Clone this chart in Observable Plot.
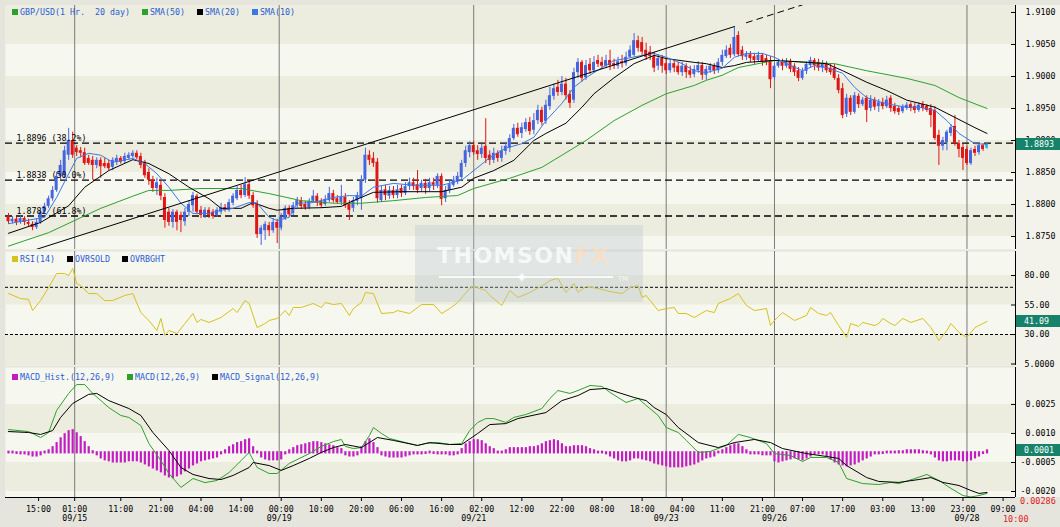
<!DOCTYPE html>
<html><head><meta charset="utf-8">
<script src="https://cdn.jsdelivr.net/npm/d3@7"></script>
<script src="https://cdn.jsdelivr.net/npm/@observablehq/plot@0.6"></script>
<style>
html,body{margin:0;padding:0;background:#e5e5de;}
#wrap{position:relative;width:1060px;height:527px;overflow:hidden;background:#e5e5de;}
#axisbg{position:absolute;left:1015px;top:5px;width:45px;height:492px;background:#f3f3eb;}
.pnl{position:absolute;left:0;}
.pnl svg{display:block;}
.leg{position:absolute;font-family:"DejaVu Sans Mono",monospace;font-size:8.3px;color:#2a5bd7;white-space:pre;line-height:10px;}
.sq{position:absolute;width:6px;height:6px;}
.box{position:absolute;left:1016px;width:44px;height:12px;background:#16826a;color:#fff;font-family:"DejaVu Sans Mono",monospace;font-size:8.3px;line-height:12px;padding-left:8px;box-sizing:border-box;}
.red{position:absolute;color:#e02020;font-family:"DejaVu Sans Mono",monospace;font-size:8.5px;line-height:10px;}
#wm{position:absolute;left:415px;top:225px;width:228px;height:77px;background:rgba(185,196,208,0.34);}
</style></head>
<body><div id="wrap"><div id="axisbg"></div></div>
<script>
// ---------------- DATA ----------------
const open = [1.8781,1.8773,1.8777,1.8772,1.8778,1.8772,1.8769,1.8764,1.8772,1.8788,
1.8797,1.8809,1.8822,1.8844,1.8845,1.8877,1.8900,1.8888,1.8884,1.8881,
1.8872,1.8869,1.8861,1.8869,1.8864,1.8864,1.8858,1.8866,1.8872,1.8867,
1.8872,1.8875,1.8880,1.8875,1.8866,1.8850,1.8838,1.8825,1.8830,1.8811,
1.8788,1.8772,1.8788,1.8783,1.8773,1.8788,1.8798,1.8813,1.8791,1.8783,
1.8791,1.8788,1.8783,1.8788,1.8795,1.8791,1.8802,1.8809,1.8822,1.8814,
1.8831,1.8814,1.8802,1.8753,1.8759,1.8767,1.8759,1.8772,1.8763,1.8778,
1.8794,1.8786,1.8798,1.8806,1.8800,1.8795,1.8805,1.8813,1.8805,1.8800,
1.8806,1.8817,1.8809,1.8803,1.8811,1.8800,1.8794,1.8805,1.8809,1.8838,
1.8877,1.8872,1.8866,1.8806,1.8823,1.8813,1.8822,1.8814,1.8825,1.8817,
1.8828,1.8834,1.8831,1.8825,1.8833,1.8825,1.8834,1.8830,1.8844,1.8809,
1.8822,1.8830,1.8836,1.8842,1.8864,1.8881,1.8892,1.8884,1.8878,1.8891,
1.8877,1.8869,1.8880,1.8872,1.8883,1.8888,1.8903,1.8919,1.8911,1.8917,
1.8928,1.8916,1.8931,1.8947,1.8930,1.8953,1.8969,1.8983,1.8975,1.8988,
1.8972,1.8963,1.9006,1.9022,1.8998,1.9019,1.9009,1.9025,1.9022,1.9016,
1.9025,1.9020,1.9016,1.9023,1.9020,1.9030,1.9033,1.9056,1.9053,1.9041,
1.9038,1.9031,1.9016,1.9028,1.9020,1.9009,1.9020,1.9016,1.9006,1.9016,
1.9009,1.9003,1.9009,1.9017,1.9002,1.9009,1.9016,1.9009,1.9022,1.9031,
1.9044,1.9034,1.9064,1.9041,1.9030,1.9034,1.9031,1.9025,1.9033,1.9028,
1.9025,1.8998,1.9016,1.9022,1.9016,1.9022,1.9016,1.9009,1.8997,1.9008,
1.9017,1.9025,1.9022,1.9013,1.9019,1.9013,1.9013,1.8997,1.8981,1.8941,
1.8966,1.8944,1.8969,1.8956,1.8966,1.8950,1.8963,1.8953,1.8959,1.8953,
1.8966,1.8953,1.8950,1.8945,1.8950,1.8956,1.8953,1.8947,1.8956,1.8953,
1.8950,1.8947,1.8908,1.8891,1.8897,1.8911,1.8922,1.8895,1.8889,1.8886,
1.8864,1.8886,1.8881,1.8892,1.8888];
const high = [1.8786,1.8781,1.8780,1.8783,1.8781,1.8777,1.8773,1.8777,1.8791,1.8802,
1.8813,1.8828,1.8850,1.8869,1.8891,1.8919,1.8913,1.8892,1.8889,1.8888,
1.8877,1.8875,1.8873,1.8873,1.8872,1.8869,1.8873,1.8877,1.8875,1.8880,
1.8881,1.8884,1.8884,1.8880,1.8869,1.8856,1.8844,1.8841,1.8838,1.8817,
1.8794,1.8792,1.8791,1.8788,1.8794,1.8806,1.8819,1.8816,1.8797,1.8795,
1.8795,1.8792,1.8795,1.8802,1.8800,1.8808,1.8817,1.8828,1.8830,1.8842,
1.8838,1.8819,1.8806,1.8767,1.8773,1.8772,1.8778,1.8777,1.8786,1.8798,
1.8798,1.8803,1.8811,1.8811,1.8805,1.8809,1.8822,1.8817,1.8809,1.8814,
1.8827,1.8822,1.8814,1.8830,1.8817,1.8806,1.8811,1.8819,1.8845,1.8888,
1.8884,1.8881,1.8872,1.8828,1.8830,1.8828,1.8828,1.8830,1.8830,1.8834,
1.8841,1.8841,1.8853,1.8838,1.8839,1.8841,1.8841,1.8848,1.8848,1.8828,
1.8838,1.8844,1.8850,1.8869,1.8891,1.8898,1.8898,1.8892,1.8894,1.8934,
1.8884,1.8888,1.8884,1.8891,1.8897,1.8909,1.8925,1.8927,1.8927,1.8934,
1.8936,1.8942,1.8955,1.8952,1.8963,1.8983,1.8988,1.8994,1.9000,1.8997,
1.8978,1.9013,1.9028,1.9025,1.9025,1.9028,1.9031,1.9033,1.9030,1.9033,
1.9041,1.9027,1.9030,1.9033,1.9038,1.9048,1.9067,1.9063,1.9061,1.9052,
1.9047,1.9038,1.9034,1.9033,1.9027,1.9025,1.9025,1.9022,1.9022,1.9020,
1.9016,1.9017,1.9023,1.9022,1.9016,1.9020,1.9020,1.9028,1.9041,1.9048,
1.9050,1.9078,1.9070,1.9047,1.9039,1.9039,1.9036,1.9038,1.9036,1.9033,
1.9031,1.9020,1.9027,1.9027,1.9028,1.9027,1.9020,1.9014,1.9013,1.9023,
1.9030,1.9028,1.9027,1.9025,1.9023,1.9019,1.9019,1.9003,1.8989,1.8972,
1.8970,1.8975,1.8973,1.8967,1.8970,1.8970,1.8967,1.8964,1.8966,1.8969,
1.8970,1.8958,1.8953,1.8956,1.8959,1.8959,1.8958,1.8959,1.8961,1.8956,
1.8956,1.8953,1.8916,1.8905,1.8916,1.8925,1.8939,1.8900,1.8894,1.8891,
1.8888,1.8891,1.8895,1.8895,1.8895];
const low = [1.8769,1.8770,1.8767,1.8769,1.8767,1.8764,1.8759,1.8761,1.8769,1.8784,
1.8794,1.8805,1.8819,1.8839,1.8842,1.8869,1.8872,1.8875,1.8873,1.8861,
1.8861,1.8838,1.8856,1.8841,1.8856,1.8853,1.8853,1.8861,1.8863,1.8864,
1.8869,1.8872,1.8870,1.8856,1.8841,1.8830,1.8819,1.8814,1.8806,1.8763,
1.8766,1.8763,1.8759,1.8756,1.8766,1.8781,1.8788,1.8784,1.8778,1.8778,
1.8778,1.8777,1.8780,1.8784,1.8788,1.8788,1.8798,1.8806,1.8809,1.8811,
1.8808,1.8794,1.8747,1.8736,1.8744,1.8750,1.8755,1.8739,1.8759,1.8775,
1.8780,1.8783,1.8794,1.8792,1.8791,1.8792,1.8802,1.8797,1.8794,1.8797,
1.8803,1.8802,1.8800,1.8798,1.8794,1.8775,1.8788,1.8798,1.8791,1.8833,
1.8861,1.8858,1.8802,1.8803,1.8806,1.8808,1.8809,1.8809,1.8811,1.8814,
1.8822,1.8822,1.8817,1.8819,1.8816,1.8820,1.8822,1.8825,1.8798,1.8803,
1.8817,1.8827,1.8831,1.8838,1.8858,1.8873,1.8877,1.8869,1.8872,1.8864,
1.8861,1.8864,1.8866,1.8866,1.8877,1.8881,1.8900,1.8905,1.8903,1.8913,
1.8908,1.8909,1.8925,1.8923,1.8925,1.8947,1.8963,1.8969,1.8970,1.8963,
1.8950,1.8958,1.8997,1.8991,1.8994,1.9003,1.9005,1.9014,1.9011,1.9013,
1.9009,1.9011,1.9011,1.9013,1.9016,1.9028,1.9030,1.9038,1.9033,1.9025,
1.9025,1.9006,1.9009,1.9005,1.9003,1.9005,1.9006,1.9002,1.9000,1.8997,
1.8997,1.8998,1.9005,1.8994,1.8994,1.9005,1.9003,1.9005,1.9016,1.9028,
1.9028,1.9031,1.9031,1.9025,1.9025,1.9022,1.9019,1.9022,1.9016,1.9017,
1.8981,1.8994,1.9013,1.9009,1.9013,1.9006,1.9000,1.8992,1.8994,1.9003,
1.9013,1.9009,1.9008,1.9006,1.9005,1.9002,1.8994,1.8973,1.8934,1.8936,
1.8939,1.8941,1.8950,1.8953,1.8928,1.8945,1.8947,1.8944,1.8948,1.8950,
1.8944,1.8941,1.8939,1.8942,1.8947,1.8945,1.8942,1.8944,1.8945,1.8944,
1.8920,1.8900,1.8861,1.8884,1.8884,1.8906,1.8891,1.8873,1.8853,1.8861,
1.8861,1.8875,1.8877,1.8883,1.8886];
const close = [1.8773,1.8777,1.8772,1.8778,1.8772,1.8769,1.8764,1.8772,1.8788,1.8797,
1.8809,1.8822,1.8844,1.8861,1.8884,1.8900,1.8877,1.8881,1.8880,1.8864,
1.8864,1.8861,1.8869,1.8859,1.8859,1.8856,1.8869,1.8872,1.8866,1.8875,
1.8877,1.8880,1.8873,1.8861,1.8845,1.8838,1.8825,1.8834,1.8813,1.8775,
1.8772,1.8788,1.8772,1.8775,1.8788,1.8800,1.8814,1.8788,1.8783,1.8791,
1.8783,1.8781,1.8791,1.8795,1.8791,1.8803,1.8813,1.8822,1.8814,1.8831,
1.8813,1.8798,1.8753,1.8763,1.8769,1.8759,1.8772,1.8763,1.8780,1.8794,
1.8784,1.8798,1.8806,1.8797,1.8795,1.8805,1.8813,1.8802,1.8798,1.8808,
1.8817,1.8806,1.8803,1.8811,1.8798,1.8791,1.8806,1.8814,1.8838,1.8877,
1.8869,1.8864,1.8809,1.8822,1.8814,1.8822,1.8814,1.8823,1.8817,1.8828,
1.8834,1.8828,1.8822,1.8833,1.8825,1.8834,1.8830,1.8844,1.8808,1.8822,
1.8831,1.8838,1.8844,1.8864,1.8884,1.8892,1.8881,1.8878,1.8888,1.8872,
1.8869,1.8880,1.8872,1.8884,1.8891,1.8903,1.8919,1.8909,1.8920,1.8928,
1.8914,1.8931,1.8947,1.8928,1.8955,1.8970,1.8981,1.8975,1.8988,1.8970,
1.8958,1.9006,1.9022,1.8997,1.9017,1.9009,1.9022,1.9019,1.9016,1.9025,
1.9017,1.9016,1.9023,1.9020,1.9030,1.9041,1.9056,1.9044,1.9038,1.9030,
1.9031,1.9013,1.9028,1.9016,1.9009,1.9020,1.9013,1.9006,1.9016,1.9006,
1.9002,1.9011,1.9017,1.9002,1.9011,1.9016,1.9009,1.9022,1.9033,1.9041,
1.9033,1.9061,1.9034,1.9031,1.9034,1.9028,1.9025,1.9033,1.9023,1.9022,
1.8995,1.9016,1.9022,1.9016,1.9022,1.9011,1.9006,1.8997,1.9008,1.9019,
1.9025,1.9017,1.9013,1.9019,1.9009,1.9006,1.8997,1.8978,1.8939,1.8966,
1.8944,1.8970,1.8956,1.8963,1.8947,1.8963,1.8952,1.8959,1.8953,1.8963,
1.8950,1.8945,1.8944,1.8952,1.8955,1.8950,1.8947,1.8955,1.8950,1.8947,
1.8939,1.8903,1.8891,1.8900,1.8913,1.8920,1.8895,1.8886,1.8872,1.8864,
1.8884,1.8880,1.8892,1.8886,1.8893];

const sma50Idx = [0,10,23,31,35,40,48,58,65,73,81,88,96,104,112,116,125,133,138,144,151,158,164,171,174,178,182,191,199,206,214,224,231,237,244];
const sma50 = [1.8735,1.8756,1.8794,1.8813,1.8822,1.8822,1.8825,1.8825,1.8817,1.8806,1.8802,1.8802,1.8806,1.8811,1.8814,1.8825,1.8841,1.8858,1.8877,1.8900,1.8931,1.8955,1.8973,1.8986,1.8994,1.9002,1.9014,1.9025,1.9022,1.9020,1.9009,1.8997,1.8986,1.8967,1.8950];
const sma20Idx = [0,8,15,19,25,31,35,40,45,50,53,58,61,65,67,71,78,83,86,91,98,108,113,116,121,126,131,134,139,143,146,151,156,161,164,171,174,178,181,184,191,197,204,208,214,219,224,231,236,241,244];
const sma20 = [1.8755,1.8772,1.8798,1.8827,1.8853,1.8870,1.8864,1.8848,1.8827,1.8809,1.8794,1.8794,1.8803,1.8794,1.8791,1.8794,1.8795,1.8797,1.8806,1.8819,1.8820,1.8820,1.8827,1.8841,1.8853,1.8869,1.8900,1.8911,1.8927,1.8952,1.8973,1.8998,1.9020,1.9033,1.9028,1.9022,1.9020,1.9014,1.9017,1.9022,1.9025,1.9023,1.9020,1.9009,1.8991,1.8978,1.8963,1.8952,1.8936,1.8920,1.8911];
const sma10Idx = [0,9,12,15,17,20,23,26,31,34,37,40,43,46,50,53,56,60,62,65,67,70,72,76,81,85,88,91,96,101,108,113,115,120,124,128,131,134,138,141,144,148,151,154,158,161,164,168,171,174,178,181,184,188,191,194,198,201,204,208,211,214,218,221,224,227,231,234,237,241,244];
const sma10 = [1.8770,1.8780,1.8811,1.8848,1.8872,1.8880,1.8877,1.8866,1.8872,1.8864,1.8848,1.8827,1.8802,1.8786,1.8786,1.8791,1.8794,1.8803,1.8802,1.8780,1.8775,1.8780,1.8802,1.8803,1.8811,1.8814,1.8813,1.8827,1.8833,1.8830,1.8830,1.8838,1.8848,1.8873,1.8888,1.8895,1.8905,1.8931,1.8958,1.8983,1.8998,1.9014,1.9025,1.9028,1.9033,1.9036,1.9030,1.9020,1.9009,1.9006,1.9013,1.9030,1.9036,1.9036,1.9030,1.9020,1.9009,1.9017,1.9014,1.9005,1.8983,1.8967,1.8959,1.8955,1.8952,1.8952,1.8947,1.8931,1.8911,1.8895,1.8894];

const fibLevels = [1.8896, 1.8838, 1.8782];
const fibLabels = ["1.8896 (38.2%)", "1.8838 (50.0%)", "1.8782 (61.8%)"];
const trendIdx = [6, 181];
const trendPrice = [1.8728, 1.9078];
const trendExtIdx = [184, 200];
const trendExtPrice = [1.9084, 1.9116];

const rsiIdx = [0,3,5,6,8,10,12,14,15,16,17,18,20,22,24,26,29,31,33,35,37,38,39,40,42,44,46,47,48,50,53,56,57,59,60,62,64,65,67,69,70,71,73,76,78,79,81,83,85,86,88,89,91,93,96,97,100,103,106,108,110,112,115,116,119,120,123,125,127,130,134,135,137,139,141,142,144,147,150,153,155,157,158,159,162,164,166,167,169,171,174,176,177,180,182,184,186,189,190,191,193,196,199,200,202,204,205,207,209,210,212,213,216,217,218,220,221,223,225,228,230,232,234,235,237,239,241,242,244];
const rsi = [64.7,60.5,59.7,50.3,58.8,69.8,81.7,81.7,80.0,85.9,73.2,71.5,64.7,64.7,58.8,58.8,63.1,64.7,48.6,41.9,33.4,43.6,29.2,33.4,30.8,39.3,47.8,40.2,42.7,40.2,44.4,52.0,48.6,58.8,56.3,35.9,39.3,41.9,43.6,50.3,46.1,52.9,52.9,56.3,52.9,57.1,55.4,56.3,46.1,52.0,57.1,65.6,64.7,47.8,48.6,50.3,47.8,55.4,55.4,47.8,52.0,57.1,69.0,70.7,67.3,63.1,54.6,67.3,61.4,65.6,73.2,75.8,77.5,65.6,73.2,65.6,70.7,69.0,66.4,64.7,69.8,71.5,61.4,63.1,50.3,52.0,52.9,47.8,47.8,44.4,50.3,48.6,56.3,60.5,64.7,54.6,50.3,52.0,37.6,41.9,48.6,41.9,46.1,52.9,47.8,46.1,48.6,37.6,27.5,39.3,36.8,40.2,37.6,39.3,43.6,39.3,37.6,43.6,40.2,43.6,35.9,24.9,33.4,39.3,31.7,27.5,35.9,37.6,41.09];
const rsiLevels = [70, 30];

const macdIdx = [0,5,8,10,12,15,17,19,21,25,28,30,33,35,38,40,43,46,49,52,55,58,60,62,65,67,70,75,78,81,83,84,86,88,90,91,93,95,99,102,104,107,110,113,115,117,119,121,124,126,129,133,135,137,140,142,145,148,150,154,157,159,162,164,167,169,172,175,179,182,185,189,191,195,198,200,204,207,209,213,217,220,222,226,229,232,235,238,240,242,244];
const macd = [0.00120,0.00110,0.00079,0.00105,0.00219,0.00307,0.00353,0.00353,0.00307,0.00234,0.00193,0.00183,0.00141,0.00048,-0.00040,-0.00107,-0.00179,-0.00133,-0.00154,-0.00143,-0.00102,-0.00040,0.00002,-0.00076,-0.00107,-0.00107,-0.00055,-0.00004,0.00033,0.00058,0.00069,0.00033,0.00022,0.00027,0.00089,0.00131,0.00100,0.00074,0.00053,0.00038,0.00048,0.00053,0.00043,0.00048,0.00115,0.00157,0.00177,0.00177,0.00157,0.00183,0.00198,0.00229,0.00281,0.00322,0.00307,0.00322,0.00348,0.00343,0.00312,0.00260,0.00281,0.00245,0.00193,0.00131,0.00105,0.00064,0.00002,0.00007,0.00038,0.00095,0.00079,0.00048,-0.00004,-0.00014,-0.00045,-0.00024,-0.00024,-0.00050,-0.00133,-0.00159,-0.00164,-0.00153,-0.00159,-0.00133,-0.00112,-0.00143,-0.00184,-0.00221,-0.00228,-0.00221,-0.00210];
const signalIdx = [0,5,8,11,13,16,20,22,25,30,33,36,40,43,46,50,53,56,60,61,65,68,71,75,78,81,84,88,92,96,102,105,110,113,117,120,124,127,134,138,142,145,149,152,156,159,161,164,167,172,177,181,186,190,193,199,204,207,209,214,217,222,227,230,233,237,240,242,244];
const signal = [0.00110,0.00105,0.00095,0.00115,0.00183,0.00255,0.00302,0.00307,0.00270,0.00229,0.00193,0.00105,0.00012,-0.00076,-0.00112,-0.00133,-0.00138,-0.00117,-0.00076,-0.00050,-0.00066,-0.00091,-0.00066,-0.00029,0.00002,0.00027,0.00043,0.00027,0.00079,0.00064,0.00038,0.00053,0.00043,0.00043,0.00100,0.00146,0.00151,0.00177,0.00208,0.00270,0.00296,0.00327,0.00333,0.00312,0.00286,0.00270,0.00234,0.00198,0.00131,0.00053,0.00027,0.00053,0.00069,0.00053,0.00022,-0.00004,-0.00019,-0.00029,-0.00066,-0.00128,-0.00148,-0.00153,-0.00138,-0.00128,-0.00153,-0.00169,-0.00195,-0.00210,-0.00205];
const hist = [0.00003,0.00003,-0.00003,-0.00005,-0.00005,-0.0001,-0.00016,-0.00016,-0.0001,0.00003,
0.0001,0.00026,0.00047,0.00072,0.00093,0.00109,0.00114,0.00098,0.00078,0.00052,
0.00026,0.00005,-0.0001,-0.00026,-0.00036,-0.00041,-0.00047,-0.00047,-0.00047,-0.00047,
-0.00041,-0.00041,-0.00041,-0.00047,-0.00057,-0.00067,-0.00078,-0.00088,-0.00098,-0.00114,
-0.00124,-0.00129,-0.00119,-0.00109,-0.00093,-0.00078,-0.00062,-0.00052,-0.00041,-0.00036,
-0.00031,-0.00026,-0.00021,-0.00005,0.0001,0.00026,0.00036,0.00047,0.00052,0.00062,
0.00067,0.00026,0.00003,-0.00021,-0.00031,-0.00036,-0.00036,-0.00036,-0.00031,-0.00005,
0.0001,0.00021,0.00031,0.00036,0.00041,0.00047,0.00052,0.00052,0.00047,0.00041,
0.00036,0.00031,0.00021,0.00016,-0.0001,-0.00016,-0.00016,-0.0001,0.00026,0.00052,
0.00067,0.00047,0.00021,-0.0001,-0.00016,-0.00021,-0.00021,-0.00021,-0.00021,-0.00016,
-0.0001,-0.00005,-0.00005,-0.00005,-0.00003,0.00003,-0.00003,-0.00005,-0.00005,-0.00005,
-0.0001,-0.0001,-0.00005,0.00016,0.00041,0.00052,0.00062,0.00062,0.00057,0.00041,
0.00026,0.00016,0.00003,0.00003,0.0001,0.00021,0.00021,0.00021,0.00021,0.00021,
0.00026,0.00026,0.00031,0.00041,0.00052,0.00057,0.00062,0.00057,0.00041,0.00026,
0.00026,0.00031,0.00031,0.00031,0.00026,0.00016,0.0001,0.00003,0.00003,-0.00005,
-0.00016,-0.00026,-0.00036,-0.00041,-0.00041,-0.00036,-0.00026,-0.00026,-0.00031,-0.00036,
-0.00041,-0.00052,-0.00057,-0.00062,-0.00067,-0.00072,-0.00072,-0.00072,-0.00072,-0.00067,
-0.00062,-0.00057,-0.00047,-0.00036,-0.00026,-0.00021,-0.00016,0.00003,0.0001,0.00021,
0.00031,0.00041,0.00041,0.00026,0.0001,-0.00005,-0.00005,-0.00005,-0.0001,-0.0001,
-0.0001,-0.00041,-0.00047,-0.00041,-0.00036,-0.00031,-0.00026,-0.00031,-0.00036,-0.00026,
-0.00016,-0.00005,-0.00005,-0.00005,-0.00016,-0.00031,-0.00047,-0.00057,-0.00062,-0.00067,
-0.00062,-0.00057,-0.00047,-0.00036,-0.00026,-0.00016,-0.00005,-0.00005,-0.00003,0.00003,
0.00003,0.00003,0.00005,0.00005,0.0001,0.0001,0.0001,0.0001,0.00005,0.00003,
-0.00005,-0.00021,-0.00036,-0.00041,-0.00041,-0.00036,-0.00036,-0.00036,-0.00041,-0.00041,
-0.00036,-0.00026,-0.00016,-0.00003,0.0001];

const priceTicks = [1.9100,1.9050,1.9000,1.8950,1.8900,1.8850,1.8800,1.8750];
const rsiTicks = [80, 55, 30, 5];
const rsiTickLabels = ["80.00", "55.00", "30.00", "5.0000"];
const macdTicks = [0.0025, 0.0010, -0.0005, -0.0020];
const macdTickLabels = ["0.0025", "0.0010", "-0.0005", "-0.0020"];
const timeTickIdx = [7.5,16.5,28,38,48,58,68,78,88,98,108,118,128,138,148,158,168,178,188,198,208,218,228,238,248];
const timeTickLabels = ["15:00","01:00","11:00","21:00","04:00","14:00","00:00","10:00","20:00","06:00","16:00","02:00","12:00","22:00","08:00","18:00","04:00","11:00","21:00","07:00","17:00","03:00","13:00","23:00","09:00"];
const dayIdx = [16.5, 67.5, 116, 164, 191, 239];
const dayLabels = ["09/15","09/19","09/21","09/23","09/26","09/28"];
const lastPrice = 1.8893, lastRsi = 41.09, lastHist = 0.0001;

// ---------------- STYLE ----------------
const C = {bull:"#4565e0", bear:"#e01515", last:"#30b8e8", sma50:"#2ea02e", sma20:"#000000", sma10:"#3a78e6",
  rsi:"#d6c21e", macd:"#2ea02e", sig:"#000000", hist:"#c21cc2", day:"#7c7c7c",
  light:"#f6f7ee", dark:"#ecedde"};
const FONT = "DejaVu Sans Mono";
const W = 1060;
const xDom = [-0.75, 251.1];
const wrap = document.getElementById("wrap");

const candles = close.map((c, i) => ({i, o: open[i], h: high[i], l: low[i], c,
  col: i === close.length - 1 ? C.last : (c >= open[i] ? C.bull : C.bear)}));
const zipXY = (xs, ys) => xs.map((x, k) => ({x, y: ys[k]}));

function panel(top, height, yDom, marks, mb = 0) {
  const p = Plot.plot({
    width: W, height, marginLeft: 5, marginRight: 45, marginTop: 0, marginBottom: mb,
    x: {domain: xDom, axis: null}, y: {domain: yDom, axis: null},
    color: {type: "identity"},
    style: {background: "transparent", fontFamily: FONT, fontSize: "8.3px", color: "#000", overflow: "visible"},
    marks
  });
  const d = document.createElement("div");
  d.className = "pnl"; d.style.top = top + "px";
  d.appendChild(p); wrap.appendChild(d);
  return p;
}
// tick marks point inward from the axis line; labels are placed as text marks
function rightAxis(ticks, labels, anchor, dx) {
  return [
    Plot.axisY(ticks, {anchor: "right", tickSize: 5, dx: -5, tickFormat: () => "", label: null}),
    Plot.text(ticks, {y: d => d, text: (d, i) => labels[i], frameAnchor: "right", dx, textAnchor: anchor, fill: "#000"})
  ];
}
function bands(edges) { return edges.map(([a, b]) => ({a, b})); }

// ---------------- MAIN PANEL ----------------
const mainDom = [1.87297, 1.91109];
const mainPlot = panel(5, 244, mainDom, [
  Plot.frame({fill: C.light, stroke: null}),
  Plot.rect(bands([[1.905, mainDom[1]], [1.895, 1.900], [1.885, 1.890], [1.875, 1.880]]), {y1: "a", y2: "b", fill: C.dark}),
  Plot.ruleX(dayIdx, {stroke: C.day}),
  Plot.ruleY(fibLevels, {stroke: "#000", strokeDasharray: "7,4", strokeWidth: 1.3}),
  Plot.ruleX(candles, {x: "i", y1: "l", y2: "h", stroke: "col", strokeWidth: 1}),
  Plot.rect(candles, {x1: d => d.i - 0.37, x2: d => d.i + 0.37, y1: "o", y2: "c", fill: "col"}),
  Plot.line(zipXY(sma50Idx, sma50), {x: "x", y: "y", stroke: C.sma50, strokeWidth: 1}),
  Plot.line(zipXY(sma20Idx, sma20), {x: "x", y: "y", stroke: C.sma20, strokeWidth: 1}),
  Plot.line(zipXY(sma10Idx, sma10), {x: "x", y: "y", stroke: C.sma10, strokeWidth: 1}),
  Plot.line(zipXY(trendIdx, trendPrice), {x: "x", y: "y", stroke: "#000", strokeWidth: 1, clip: true}),
  Plot.line(zipXY(trendExtIdx, trendExtPrice), {x: "x", y: "y", stroke: "#000", strokeWidth: 1, strokeDasharray: "6,5", clip: true}),
  Plot.text(fibLevels, {y: d => d, text: (d, i) => fibLabels[i], frameAnchor: "left", dx: 11, dy: -5, textAnchor: "start", fill: "#000"}),
  Plot.ruleX([xDom[1]], {stroke: "#000"}),
  ...rightAxis(priceTicks, priceTicks.map(d => d.toFixed(4)), "start", 10)
]);

// ---------------- RSI PANEL ----------------
const rsiDom = [3.73, 100.34];
const rsiPlot = panel(251, 114, rsiDom, [
  Plot.frame({fill: C.light, stroke: null}),
  Plot.rect(bands([[55, 80], [rsiDom[0], 30]]), {y1: "a", y2: "b", fill: C.dark}),
  Plot.ruleX(dayIdx, {stroke: C.day}),
  Plot.ruleY(rsiLevels, {stroke: "#000", strokeDasharray: "3,2", strokeWidth: 1}),
  Plot.line(zipXY(rsiIdx, rsi), {x: "x", y: "y", stroke: C.rsi, strokeWidth: 1}),
  Plot.ruleX([xDom[1]], {stroke: "#000"}),
  ...rightAxis(rsiTicks, rsiTickLabels, "start", 9)
]);

// ---------------- MACD PANEL ----------------
const macdDom = [-0.00231, 0.00441];
const tMap = new Map(timeTickIdx.map((t, k) => [t, timeTickLabels[k]]));
const dMap = new Map(dayIdx.map((t, k) => [t, dayLabels[k]]));
const macdPlot = panel(367, 160, macdDom, [
  Plot.frame({fill: C.light, stroke: null}),
  Plot.rect(bands([[0.0010, 0.0025], [-0.0020, -0.0005]]), {y1: "a", y2: "b", fill: C.dark}),
  Plot.ruleX(dayIdx, {stroke: C.day}),
  Plot.ruleX(hist.map((v, i) => ({i, v})), {x: "i", y1: 0, y2: "v", stroke: C.hist, strokeWidth: 2.2, strokeLinecap: "square"}),
  Plot.line(zipXY(macdIdx, macd), {x: "x", y: "y", stroke: C.macd, strokeWidth: 1}),
  Plot.line(zipXY(signalIdx, signal), {x: "x", y: "y", stroke: C.sig, strokeWidth: 1}),
  Plot.ruleX([xDom[1]], {stroke: "#000"}),
  Plot.ruleY([macdDom[0]], {stroke: "#000"}),
  ...rightAxis(macdTicks, macdTickLabels, "end", 40),
  Plot.axisX(timeTickIdx, {anchor: "bottom", tickSize: 4, tickPadding: 5, tickFormat: d => tMap.get(d), label: null}),
  Plot.axisX(dayIdx, {anchor: "bottom", tickSize: 0, tickPadding: 18, tickFormat: d => dMap.get(d), label: null})
], 30);

// ---------------- OVERLAYS ----------------
function legend(items, top) {
  for (const it of items) {
    const s = document.createElement("div");
    s.className = "sq"; s.style.left = it.x + "px"; s.style.top = (top + 2) + "px"; s.style.background = it.color;
    wrap.appendChild(s);
    const t = document.createElement("div");
    t.className = "leg"; t.style.left = (it.x + 8) + "px"; t.style.top = top + "px"; t.textContent = it.label;
    wrap.appendChild(t);
  }
}
legend([{x: 12, color: "#2ea02e", label: "GBP/USD(1 Hr.  20 day)"}, {x: 142, color: C.sma50, label: "SMA(50)"},
        {x: 197, color: "#000", label: "SMA(20)"}, {x: 252, color: C.sma10, label: "SMA(10)"}], 7);
legend([{x: 12, color: "#d6c21e", label: "RSI(14)"}, {x: 67, color: "#000", label: "OVRSOLD"},
        {x: 122, color: "#000", label: "OVRBGHT"}], 254);
legend([{x: 12, color: C.hist, label: "MACD_Hist.(12,26,9)"}, {x: 127, color: "#2ea02e", label: "MACD(12,26,9)"},
        {x: 212, color: "#000", label: "MACD_Signal(12,26,9)"}], 372);

function box(txt, top) {
  const b = document.createElement("div");
  b.className = "box"; b.style.top = (top - 6) + "px"; b.textContent = txt;
  wrap.appendChild(b);
}
box(lastPrice.toFixed(4), 5 + mainPlot.scale("y").apply(lastPrice));
box(lastRsi.toFixed(2), 251 + rsiPlot.scale("y").apply(lastRsi));
box(lastHist.toFixed(4), 367 + macdPlot.scale("y").apply(lastHist));

const r1 = document.createElement("div"); r1.className = "red"; r1.style.left = "1020px"; r1.style.top = "496px"; r1.textContent = "0.00286"; wrap.appendChild(r1);
const r2 = document.createElement("div"); r2.className = "red"; r2.style.left = "1003px"; r2.style.top = "514px"; r2.textContent = "10:00"; wrap.appendChild(r2);

const wm = document.createElement("div"); wm.id = "wm";
wm.innerHTML = '<div style="position:absolute;left:22px;top:18px;font:bold 22px \'DejaVu Sans\';letter-spacing:1.5px;color:rgba(255,255,255,0.75)">THOMSON<span style="color:rgba(250,222,196,0.85)">FX</span></div>' +
  '<div style="position:absolute;left:24px;top:51px;width:174px;height:1.5px;background:rgba(255,255,255,0.8)"></div>' +
  '<div style="position:absolute;left:100px;top:43px;font:16px \'DejaVu Sans\';color:rgba(255,255,255,0.85)">✦</div>' +
  '<div style="position:absolute;left:203px;top:50px;font:7px \'DejaVu Sans\';color:rgba(255,255,255,0.8)">TM</div>';
wrap.appendChild(wm);
</script>
</body></html>
